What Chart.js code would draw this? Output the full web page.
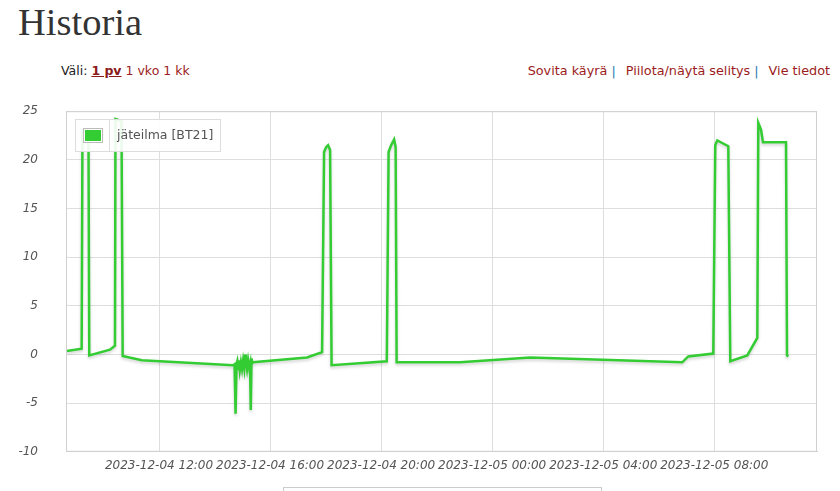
<!DOCTYPE html>
<html>
<head>
<meta charset="utf-8">
<script src="https://cdn.jsdelivr.net/npm/chart.js@4"></script>
<style>
  body { margin: 0; width: 840px; height: 491px; background: #fff; position: relative; overflow: hidden; }
  h1 { position: absolute; left: 18px; top: 0; margin: 0; font: 38.5px "Liberation Serif", serif; color: #333; line-height: 44px; }
  .range { position: absolute; left: 61px; top: 63px; font: 12.5px "DejaVu Sans", sans-serif; color: #222; }
  .range a { color: #9b1c1c; text-decoration: none; }
  .range a.sel { font-weight: bold; text-decoration: underline; color: #8a1a1a; }
  .links { position: absolute; right: 10px; top: 63px; font: 12.8px "DejaVu Sans", sans-serif; color: #9b1c1c; white-space: nowrap; }
  .links span { color: #2a7ab0; margin: 0 6px 0 4px; }
  /* y tick padding adds the same margin above and below the plot, so the box starts higher */
  #wrap { position: absolute; left: 0; top: 76px; width: 830px; height: 411px; }
  #legend { position: absolute; left: 75px; top: 119px; width: 144px; height: 31px; border: 1px solid #ddd; background: rgba(255,255,255,0.9); font: 12.5px "DejaVu Sans", sans-serif; color: #545454; }
  #legend .sw { position: absolute; left: 0; top: 0; width: 33px; height: 31px; border-right: 1px solid #ddd; }
  #legend .sw i { position: absolute; left: 7px; top: 8px; width: 16px; height: 11px; border: 1px solid #bbb; padding: 1px; background-clip: content-box; }
  #legend .lbl { position: absolute; left: 41px; top: 7px; }
  .foot { position: absolute; left: 283px; top: 487px; width: 317px; height: 20px; border: 1px solid #ccc; }
</style>
</head>
<body>
<h1>Historia</h1>
<div class="range">Väli: <a class="sel">1 pv</a> <a>1 vko</a> <a>1 kk</a></div>
<div class="links">Sovita käyrä<span>|</span> Piilota/näytä selitys<span>|</span> Vie tiedot</div>
<div id="wrap"><canvas id="chart"></canvas></div>
<div id="legend"><div class="sw"><i id="swatch"></i></div><div class="lbl" id="legendLabel"></div></div>
<div class="foot"></div>
<script>
// hours counted from 2023-12-04 00:00
const seriesLabel = 'jäteilma [BT21]';
const hours = [
  8.685, 9.214, 9.243, 9.459, 9.488, 10.234, 10.414, 10.432, 10.649, 10.692,
  11.377, 14.667, 14.721, 14.757, 14.793, 14.82, 14.85, 14.88, 14.91, 14.95,
  14.99, 15.03, 15.07, 15.099, 15.13, 15.17, 15.21, 15.25, 15.279, 15.305,
  15.333, 15.36, 15.387, 17.333, 17.874, 17.946, 18.018, 18.09, 18.162, 18.216,
  20.205, 20.27, 20.36, 20.468, 20.523, 20.559, 22.847, 25.369, 30.847, 31.063,
  31.964, 32.036, 32.108, 32.505, 32.577, 33.189, 33.55, 33.586, 33.683, 33.755,
  34.584, 34.62, 34.667
];
const temps = [
  0.35, 0.6, 23.0, 23.0, -0.1, 0.5, 0.9, 24.2, 24.0, -0.15,
  -0.6, -1.1, -1.0, -6.1, -1.0, -0.7, -1.5, -0.6, -1.6, -0.8,
  -1.5, -0.6, -1.4, 0.0, -0.7, -1.5, -0.6, -1.4, -1.0, -5.7,
  -0.4, -0.9, -0.8, -0.3, 0.25, 20.8, 21.3, 21.5, 21.0, -1.1,
  -0.7, 20.8, 21.5, 22.1, 21.3, -0.8, -0.8, -0.3, -0.8, -0.2,
  0.1, 21.5, 22.0, 21.4, -0.7, -0.1, 1.7, 23.8, 23.1, 21.8,
  21.8, -0.1, -0.2
];
const xTicks = [12, 16, 20, 24, 28, 32];
const xTickLabels = ['2023-12-04 12:00', '2023-12-04 16:00', '2023-12-04 20:00',
                     '2023-12-05 00:00', '2023-12-05 04:00', '2023-12-05 08:00'];
const yTicks = [-10, -5, 0, 5, 10, 15, 20, 25];

const lineColor = '#33cc33';
document.getElementById('legendLabel').textContent = seriesLabel;
document.getElementById('swatch').style.backgroundColor = lineColor;

// soft shadow under the line, like the original plot
const shadow = {
  id: 'shadow',
  beforeDatasetsDraw(chart) {
    const ctx = chart.ctx;
    ctx.save();
    ctx.shadowColor = 'rgba(0,0,0,0.18)';
    ctx.shadowBlur = 3;
    ctx.shadowOffsetY = 2;
  },
  afterDatasetsDraw(chart) {
    chart.ctx.restore();
  }
};

const tickFont = { family: 'DejaVu Sans', size: 12, style: 'italic' };

new Chart(document.getElementById('chart'), {
  type: 'line',
  data: {
    datasets: [{
      label: seriesLabel,
      data: hours.map((h, i) => ({ x: h, y: temps[i] })),
      borderColor: lineColor,
      borderWidth: 2.5,
      pointRadius: 0,
      tension: 0,
      fill: false
    }]
  },
  options: {
    responsive: true,
    maintainAspectRatio: false,
    animation: false,
    layout: { padding: { top: 0, right: 13, left: 0, bottom: 0 } },
    plugins: { legend: { display: false }, tooltip: { enabled: false } },
    scales: {
      x: {
        type: 'linear',
        min: 8.65,
        max: 35.7,
        afterBuildTicks: scale => { scale.ticks = xTicks.map(v => ({ value: v })); },
        afterFit: scale => { scale.height = 28; },
        ticks: {
          autoSkip: false,
          maxRotation: 0,
          padding: 7,
          color: '#545454',
          font: tickFont,
          callback: v => xTickLabels[xTicks.indexOf(v)]
        },
        grid: { color: '#dedede', drawTicks: false },
        border: { color: '#d0d0d0' }
      },
      y: {
        min: -10,
        max: 25,
        afterBuildTicks: scale => { scale.ticks = yTicks.map(v => ({ value: v })); },
        afterFit: scale => { scale.width = 66; },
        ticks: {
          padding: 28,
          color: '#545454',
          font: tickFont
        },
        grid: { color: '#dedede', drawTicks: false },
        border: { color: '#d0d0d0' }
      }
    }
  },
  plugins: [shadow, {
    id: 'frame',
    afterDraw(chart) {
      const { ctx, chartArea: a } = chart;
      ctx.save();
      ctx.strokeStyle = '#d0d0d0';
      ctx.lineWidth = 1;
      ctx.strokeRect(a.left + 0.5, a.top + 0.5, a.right - a.left - 1, a.bottom - a.top - 1);
      ctx.restore();
    }
  }]
});
</script>
</body>
</html>
